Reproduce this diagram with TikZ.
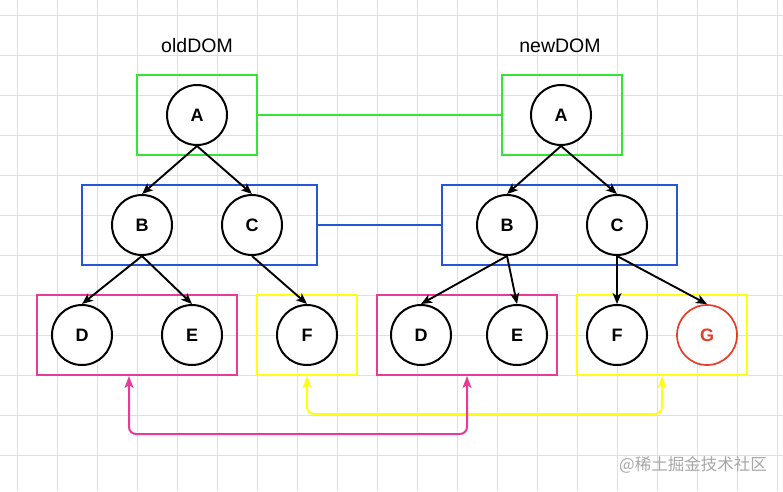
\documentclass[tikz,border=0pt]{standalone}
\usepackage{fontspec}
\setmainfont{Liberation Sans}
\setsansfont{Liberation Sans}
\newfontfamily\cjkfont{Noto Sans CJK SC}
\usetikzlibrary{arrows.meta}

\definecolor{boxgreen}{RGB}{51,230,51}
\definecolor{boxblue}{RGB}{38,86,217}
\definecolor{boxpink}{RGB}{232,58,150}
\definecolor{boxyellow}{RGB}{255,255,20}
\definecolor{nodered}{RGB}{232,60,40}

\tikzset{
  vnode/.style={circle,draw,line width=2pt,minimum size=60pt,inner sep=0pt,fill=white,
    font=\sffamily\bfseries\fontsize{18}{18}\selectfont},
  grpbox/.style={draw=#1,line width=2.2pt,inner sep=0pt},
  gridline/.style={gray!25,line width=0.9pt},
  tree/.style={line width=1.9pt,-{Stealth[length=11pt,width=9pt,inset=3pt]}},
  link/.style={line width=2pt,rounded corners=7pt,{Stealth[length=12pt,width=9pt,inset=3pt]}-{Stealth[length=12pt,width=9pt,inset=3pt]}}
}

\begin{document}
\begin{tikzpicture}[x=1pt,y=-1pt]
  \useasboundingbox (0,0) rectangle (783,491);

 % background grid
  \foreach \gx in {17,57,...,777} \draw[gridline] (\gx,0) -- (\gx,491);
  \foreach \gy in {15,55,...,455} \draw[gridline] (0,\gy) -- (783,\gy);

 % titles
  \node[font=\fontsize{19.5}{19.5}\selectfont] (oldT) at (197,46) {oldDOM};
  \node[font=\fontsize{19.5}{19.5}\selectfont] (newT) at (560,46) {newDOM};

 % level boxes
  \node[grpbox=boxgreen,minimum width=120pt,minimum height=80pt] (oldL1) at (197,115) {};
  \node[grpbox=boxgreen,minimum width=120pt,minimum height=80pt] (newL1) at (562,115) {};
  \node[grpbox=boxblue,minimum width=235pt,minimum height=80pt] (oldL2) at (199.5,225) {};
  \node[grpbox=boxblue,minimum width=235pt,minimum height=80pt] (newL2) at (559.5,225) {};
  \node[grpbox=boxpink,minimum width=200pt,minimum height=80pt] (oldL3a) at (137,335) {};
  \node[grpbox=boxyellow,minimum width=100pt,minimum height=80pt] (oldL3b) at (307,335) {};
  \node[grpbox=boxpink,minimum width=180pt,minimum height=80pt] (newL3a) at (467,335) {};
  \node[grpbox=boxyellow,minimum width=170pt,minimum height=80pt] (newL3b) at (662,335) {};

 % same-level links
  \draw[boxgreen,line width=2.2pt] (oldL1.east) -- (newL1.west);
  \draw[boxblue,line width=2.2pt] (oldL2.east) -- (newL2.west);

 % old tree
  \node[vnode] (oA) at (197,115) {A};
  \node[vnode] (oB) at (142,225) {B};
  \node[vnode] (oC) at (252,225) {C};
  \node[vnode] (oD) at (82,335) {D};
  \node[vnode] (oE) at (192,335) {E};
  \node[vnode] (oF) at (307,335) {F};

 % new tree
  \node[vnode] (nA) at (561,115) {A};
  \node[vnode] (nB) at (507,225) {B};
  \node[vnode] (nC) at (617,225) {C};
  \node[vnode] (nD) at (421,335) {D};
  \node[vnode] (nE) at (517,335) {E};
  \node[vnode] (nF) at (617,335) {F};
  \node[vnode,draw=nodered,text=nodered,line width=1.7pt] (nG) at (707,335) {G};

  \draw[tree] (oA.south) -- (oB.north);
  \draw[tree] (oA.south) -- (oC.north);
  \draw[tree] (oB.south) -- (oD.north);
  \draw[tree] (oB.south) -- (oE.north);
  \draw[tree] (oC.south) -- (oF.north);
  \draw[tree] (nA.south) -- (nB.north);
  \draw[tree] (nA.south) -- (nC.north);
  \draw[tree] (nB.south) -- (nD.north);
  \draw[tree] (nB.south) -- (nE.north);
  \draw[tree] (nC.south) -- (nF.north);
  \draw[tree] (nC.south) -- (nG.north);

 % moved subtrees
  \coordinate (pinkL) at (129,376);
  \coordinate (pinkR) at (467,376);
  \coordinate (yelL) at (307,376);
  \coordinate (yelR) at (662,376);
  \draw[link,boxyellow] (yelL) -- (307,414) -- (662,414) -- (yelR);
  \draw[link,boxpink] (pinkL) -- (129,434) -- (467,434) -- (pinkR);

 % watermark
  \node[gray!70,font=\cjkfont\fontsize{16.5}{16.5}\selectfont] (mark) at (693,465) {@稀土掘金技术社区};
\end{tikzpicture}
\end{document}
